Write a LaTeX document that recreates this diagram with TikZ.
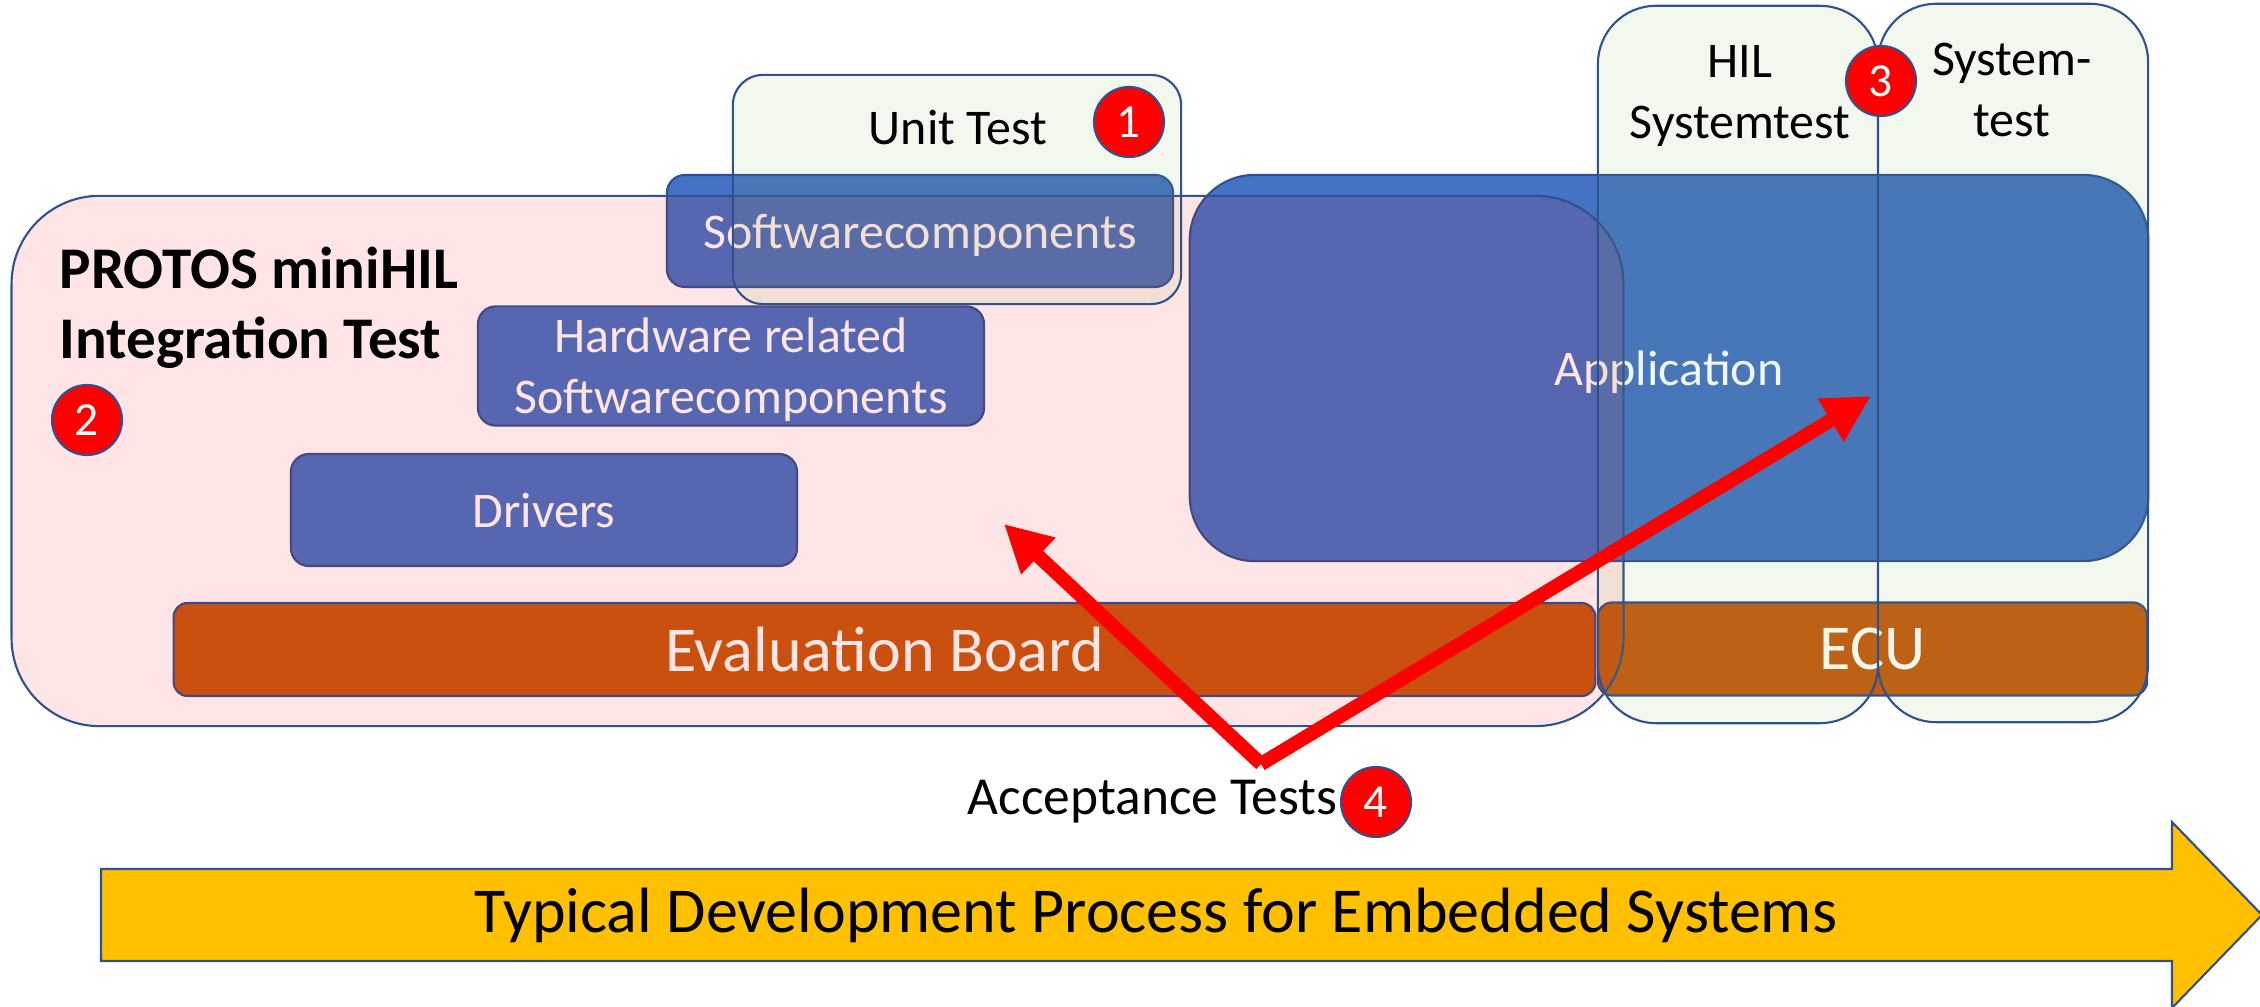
\documentclass[tikz,border=0pt]{standalone}
\usepackage{fontspec}
\setmainfont{Carlito}
\usepackage{tikz}
\usetikzlibrary{arrows.meta,positioning}

\definecolor{outl}{HTML}{2F528F}
\definecolor{accblue}{HTML}{4472C4}
\definecolor{accorange}{HTML}{C55A11}
\definecolor{accgreen}{HTML}{70AD47}
\definecolor{accyellow}{HTML}{FFC000}

\tikzset{
  comp/.style = {draw = outl, line width = 0.6pt, fill = accblue, text = white,
    rounded corners = 0.18cm, minimum width = 5.06cm, minimum height = 1.12cm,
    align = center, text depth = 0pt, font = \fontsize{14.2pt}{17.4pt}\selectfont},
  board/.style = {draw = outl, line width = 0.6pt, fill = accorange, text = white,
    rounded corners = 0.14cm, minimum height = 0.93cm,
    font = \fontsize{18.2pt}{21pt}\selectfont},
  area/.style = {draw = outl, line width = 0.6pt, fill = accgreen,
    fill opacity = 0.09, text opacity = 1},
  lbl/.style = {align = center, font = \fontsize{14.2pt}{17.2pt}\selectfont},
  badge/.style = {circle, draw = outl, line width = 0.6pt, fill = red, text = white,
    minimum size = 0.7cm, inner sep = 0pt, font = \fontsize{13.5pt}{15pt}\selectfont},
  redarrow/.style = {red, line width = 0.14cm,
    -{Triangle[length = 0.47cm, width = 0.47cm]}}
}

\begin{document}
\begin{tikzpicture}[x = 0.01cm, y = -0.01cm]
  \useasboundingbox (0,0) rectangle (2260,1007);
  \clip (0,0) rectangle (2260,1007);

  % software layers
  \node[comp] (swc) at (920,231) {Softwarecomponents};
  \node[comp] (hwswc) at (731,366) {Hardware related\\Softwarecomponents};
  \node[comp] (drv) at (544,510) {Drivers};
  \node[comp, minimum width = 9.58cm, minimum height = 3.86cm, rounded corners = 0.65cm]
    (app) at (1669,368) {Application};

  % hardware
  \node[board, minimum width = 14.21cm] (evb) at (884.5,649.5) {Evaluation Board};
  \node[board, minimum width = 5.49cm] (ecu) at (1872.5,649) {ECU};

  % test areas
  \node[area, fill = red, fill opacity = 0.1, minimum width = 16.11cm, minimum height = 5.30cm,
    rounded corners = 0.88cm] (integ) at (817.5,461) {};
  \node[area, minimum width = 4.48cm, minimum height = 2.29cm, rounded corners = 0.30cm]
    (unit) at (957,189.5) {};
  \node[area, minimum width = 2.80cm, minimum height = 7.17cm, rounded corners = 0.58cm]
    (hil) at (1738,364.5) {};
  \node[area, minimum width = 2.70cm, minimum height = 7.18cm, rounded corners = 0.58cm]
    (sys) at (2013,363) {};

  \node[lbl] (unit-lbl) at (958,128) {Unit Test};
  \node[lbl] (hil-lbl) at (1740,96) {HIL\\Systemtest};
  \node[lbl] (sys-lbl) at (2012,90) {System-\\test};
  \node[align = left, anchor = north west, inner sep = 0pt,
    font = \bfseries\fontsize{16.8pt}{20pt}\selectfont]
    (integ-lbl) at (59,246) {PROTOS miniHIL\\Integration Test};
  \node[anchor = base east, inner sep = 0pt, font = \fontsize{15.2pt}{18pt}\selectfont]
    (acc) at (1338,815) {Acceptance Tests};

  % process arrow
  \draw[draw = outl, line width = 0.6pt, fill = accyellow]
    (101,869) -- (2172,869) -- (2172,822) -- (2262,915) -- (2172,1008)
    -- (2172,961) -- (101,961) -- cycle;
  \node[font = \fontsize{18.2pt}{21pt}\selectfont] (proc) at (1156,915)
    {Typical Development Process for Embedded Systems};

  % acceptance arrows
  \coordinate (acc-v) at (1261,764);
  \coordinate (tip-l) at (1004,524);
  \coordinate (tip-r) at (1871,396);
  \draw[redarrow] (acc-v) -- (tip-l);
  \draw[redarrow] (acc-v) -- (tip-r);

  % badges
  \node[badge] (b1) at (1129,122) {1};
  \node[badge] (b2) at (87,420) {2};
  \node[badge] (b3) at (1881,81) {3};
  \node[badge] (b4) at (1376,802) {4};
\end{tikzpicture}
\end{document}
